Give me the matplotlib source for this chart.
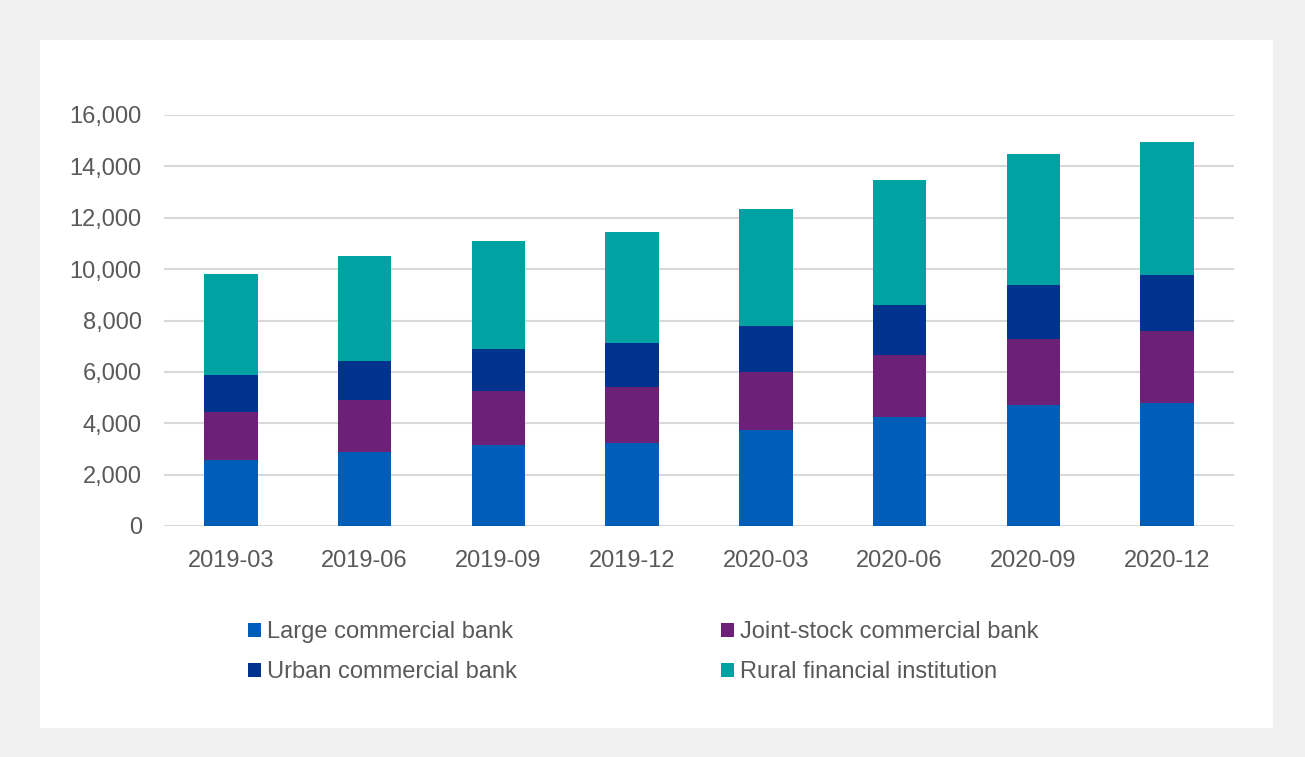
import numpy as np
import matplotlib
matplotlib.use("Agg")
import matplotlib.pyplot as plt
from matplotlib.patches import Rectangle
from matplotlib.ticker import FuncFormatter

# data
periods = ["2019-03", "2019-06", "2019-09", "2019-12",
           "2020-03", "2020-06", "2020-09", "2020-12"]
large = [2570, 2890, 3140, 3230, 3740, 4230, 4700, 4800]
joint = [1855, 2000, 2100, 2170, 2245, 2415, 2565, 2780]
urban = [1465, 1540, 1660, 1735, 1815, 1970, 2125, 2205]
rural = [3920, 4075, 4205, 4320, 4555, 4855, 5075, 5175]

labels = ["Large commercial bank", "Joint-stock commercial bank",
          "Urban commercial bank", "Rural financial institution"]
colors = ["#005EB8", "#6D2077", "#00338D", "#00A3A1"]

plt.rcParams['font.family'] = ['Liberation Sans', 'DejaVu Sans']
txt_color = "#595959"

fig = plt.figure(figsize=(13.05, 7.57), dpi=100)
fig.patch.set_facecolor("#f0f0f0")
W, H = 1305, 757
# white panel
fig.patches.append(Rectangle((40 / W, 1 - 728 / H), (1273 - 40) / W, (728 - 40) / H,
                             transform=fig.transFigure, facecolor="white",
                             edgecolor="none", zorder=-5))

ax = fig.add_axes([164 / W, 1 - 526 / H, (1234 - 164) / W, (526 - 115) / H])
ax.set_zorder(2)
ax.set_facecolor("none")

x = np.arange(len(periods))
series = [large, joint, urban, rural]
bottom = np.zeros(len(periods))
handles = []
for vals, lab, col in zip(series, labels, colors):
    b = ax.bar(x, vals, width=0.40, bottom=bottom, color=col, label=lab,
               zorder=3, edgecolor="none")
    handles.append(b)
    bottom += np.array(vals)

ax.set_xlim(-0.5, len(periods) - 0.5)
ax.set_ylim(0, 16000)
ax.set_yticks(np.arange(0, 16001, 2000))
ax.yaxis.set_major_formatter(FuncFormatter(lambda v, p: f"{int(v):,}"))
ax.set_xticks(x)
ax.set_xticklabels(periods)
ax.grid(axis="y", color="#d9d9d9", linewidth=1.5, zorder=0)
for s in ["top", "right", "left", "bottom"]:
    ax.spines[s].set_visible(False)
ax.tick_params(axis="both", length=0, labelsize=17, colors=txt_color)
ax.tick_params(axis="y", pad=16)
ax.tick_params(axis="x", pad=17)

# legend: row1 Large / Joint, row2 Urban / Rural
order = [0, 2, 1, 3]
leg = fig.legend([handles[i] for i in order], [labels[i] for i in order],
                 ncol=2, loc="upper left", bbox_to_anchor=(239 / W, 1 - 612 / H),
                 frameon=False, fontsize=17, handlelength=0.55, handleheight=0.55,
                 handletextpad=0.25, columnspacing=8.65, labelspacing=0.75,
                 borderaxespad=0)
for t in leg.get_texts():
    t.set_color(txt_color)

fig.savefig("out.png", dpi=100, facecolor=fig.get_facecolor())
